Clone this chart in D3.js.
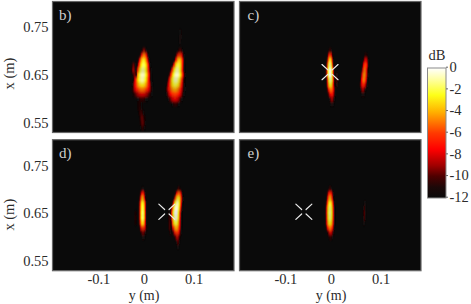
<!DOCTYPE html>
<html>
<head>
<meta charset="utf-8">
<script src="https://cdnjs.cloudflare.com/ajax/libs/d3/7.8.5/d3.min.js"></script>
<style>
	html, body { margin: 0; padding: 0; background: #fff; }
	svg { display: block; }
	text { font-family: "Liberation Serif", "Times New Roman", serif; fill: #2b2b2b; }
</style>
</head>
<body>
<div id="chart-area"></div>
<script>
/******************************
*			DATA			  *
******************************/
// every row: [x (m), y of ridge (m), half width (m), peak (dB)]
const blobB1 = [[0.70,0,0.005,-9],[0.69,0,0.009,-5],[0.68,-0.001,0.012,-2.8],[0.67,-0.001,0.014,-1.8],[0.66,-0.002,0.016,-1.2],[0.65,-0.003,0.018,-0.7],[0.64,-0.004,0.019,-1],[0.63,-0.004,0.021,-2.8],[0.62,-0.004,0.022,-5],[0.61,-0.004,0.020,-8],[0.60,-0.004,0.011,-10.5]];
const blobB2 = [[0.70,0.076,0.005,-10],[0.69,0.075,0.009,-6],[0.68,0.074,0.011,-3.5],[0.67,0.072,0.013,-2],[0.66,0.070,0.015,-1],[0.65,0.069,0.017,-0.5],[0.64,0.067,0.018,-0.8],[0.63,0.066,0.019,-2],[0.62,0.065,0.020,-4],[0.61,0.065,0.019,-6],[0.60,0.065,0.015,-8],[0.59,0.066,0.008,-10.5]];
const blobB3 = [[0.67,-0.022,0.004,-9.5],[0.66,-0.022,0.005,-9],[0.65,-0.020,0.004,-9.5]];
const blobB4 = [[0.59,-0.009,0.005,-11],[0.58,-0.009,0.005,-10.8],[0.57,-0.006,0.006,-10.3],[0.56,-0.004,0.006,-9.7],[0.55,-0.003,0.006,-9.8],[0.54,-0.003,0.005,-10.6]];
const blobB5 = [[0.74,0.076,0.002,-11.3],[0.73,0.076,0.003,-11],[0.72,0.075,0.002,-11.3]];

const blobC1 = [[0.70,-0.002,0.003,-10],[0.69,-0.002,0.006,-6],[0.68,-0.002,0.007,-3],[0.67,-0.002,0.008,-1],[0.66,-0.002,0.009,-0.2],[0.65,-0.002,0.009,0],[0.64,-0.001,0.009,-1],[0.63,-0.001,0.009,-2.5],[0.62,0,0.009,-5],[0.61,0.001,0.008,-7],[0.60,0.002,0.006,-9],[0.59,0.002,0.004,-11]];
const blobC2 = [[0.69,0.073,0.003,-10.5],[0.68,0.073,0.006,-8],[0.67,0.072,0.007,-6],[0.66,0.071,0.007,-5],[0.65,0.070,0.008,-4.5],[0.64,0.069,0.008,-5],[0.63,0.068,0.008,-6.5],[0.62,0.067,0.006,-9],[0.61,0.067,0.004,-11]];
const blobC3 = [[0.65,0.012,0.002,-10.5],[0.64,0.012,0.003,-10],[0.63,0.012,0.002,-10.5]];

const blobD1 = [[0.70,-0.003,0.002,-11],[0.69,-0.003,0.006,-7],[0.68,-0.003,0.007,-4],[0.67,-0.003,0.008,-2.5],[0.66,-0.003,0.008,-2],[0.65,-0.003,0.008,-1.5],[0.64,-0.003,0.008,-1.5],[0.63,-0.003,0.008,-3],[0.62,-0.002,0.008,-6],[0.61,-0.002,0.006,-9.5],[0.60,-0.001,0.003,-11]];
const blobD2 = [[0.70,0.073,0.003,-10],[0.69,0.073,0.008,-5.5],[0.68,0.072,0.010,-2.5],[0.67,0.070,0.011,-1],[0.66,0.068,0.012,-0.2],[0.65,0.067,0.012,0],[0.64,0.067,0.012,-0.5],[0.63,0.067,0.012,-2],[0.62,0.068,0.011,-4],[0.61,0.069,0.009,-6],[0.60,0.070,0.006,-8.5],[0.59,0.071,0.004,-10],[0.58,0.071,0.002,-11]];
const blobD3 = [[0.65,-0.018,0.002,-11],[0.64,-0.018,0.002,-10.5],[0.63,-0.018,0.002,-11]];
const blobD4 = [[0.65,0.053,0.002,-11],[0.64,0.053,0.003,-10.5],[0.63,0.054,0.003,-10],[0.62,0.054,0.003,-10],[0.61,0.055,0.002,-11]];

const blobE1 = [[0.70,-0.002,0.003,-10],[0.69,-0.002,0.007,-6.5],[0.68,-0.002,0.008,-4],[0.67,-0.002,0.009,-2.5],[0.66,-0.002,0.010,-1.5],[0.65,-0.002,0.010,-1.2],[0.64,-0.002,0.010,-1.5],[0.63,-0.002,0.010,-2.5],[0.62,-0.002,0.009,-5],[0.61,-0.001,0.007,-8],[0.60,-0.001,0.004,-10.5]];
const blobE2 = [[0.67,0.071,0.002,-11.3],[0.66,0.070,0.003,-10.5],[0.65,0.070,0.003,-10],[0.64,0.070,0.003,-10.2],[0.63,0.069,0.002,-11]];

// source positions [y (m), x (m)]
const crossC = [-0.002, 0.656];
const crossD = [0.048, 0.653];
const crossE = [-0.057, 0.653];

const panelNames = ["b)", "c)", "d)", "e)"];
const panelBlobs = [
	[blobB1, blobB2, blobB3, blobB4, blobB5],
	[blobC1, blobC2, blobC3],
	[blobD1, blobD2, blobD3, blobD4],
	[blobE1, blobE2]
];
const panelCross = [null, crossC, crossD, crossE];

const xTicks = [0.55, 0.65, 0.75];
const yTicks = [-0.1, 0, 0.1];
const dbTicks = [0, -2, -4, -6, -8, -10, -12];
const cmapDb = [-12, -11, -10, -9, -7.5, -6, -4, -2.5, -1, 0];
const cmapColors = ["#0a0a0a", "#1c0808", "#4e0000", "#a00000", "#ff0000", "#ff3a00", "#ffb400", "#fdff18", "#ffffa8", "#ffffff"];

/******************************
*	DIMENSIONS AND MARGINS	  *
******************************/
const widthinput = 471;
const heightinput = 304;
const panelW = 181.5;
const panelH = 131;
const colX = [52.5, 239.5];
const rowY = [1.5, 139.7];
const xLabelMid = [72, 75];

var svg = d3.select("#chart-area")
	.append("svg")
		.attr("width", widthinput)
		.attr("height", heightinput);

var defs = svg.append("defs");
defs.append("filter")
		.attr("id", "soft")
		.attr("x", "-20%").attr("y", "-20%")
		.attr("width", "140%").attr("height", "140%")
	.append("feGaussianBlur")
		.attr("stdDeviation", "0.7 1.7");

var color = d3.scaleLinear()
	.domain(cmapDb)
	.range(cmapColors)
	.clamp(true);

/******************************
*			PANELS			  *
******************************/
var x = d3.scaleLinear()
	.domain([0.5295, 0.804])
	.range([panelH, 0]);

var y = d3.scaleLinear()
	.domain([-0.1922, 0.1891])
	.range([0, panelW]);

const cellW = 0.0021;
const cellH = 0.0102;

panelNames.forEach((name, i) => {
	var col = i % 2, row = Math.floor(i / 2);
	var g = svg.append("g")
		.attr("transform", "translate(" + colX[col] + ", " + rowY[row] + ")");

	defs.append("clipPath").attr("id", "clip" + i)
		.append("rect").attr("width", panelW).attr("height", panelH);

	g.append("rect")
		.attr("width", panelW)
		.attr("height", panelH)
		.attr("fill", color(-12));

	var heat = g.append("g")
		.attr("clip-path", "url(#clip" + i + ")")
		.append("g")
			.attr("filter", "url(#soft)");

	panelBlobs[i].forEach((blob) => {
		blob.forEach((r) => {
			var cells = d3.range(r[1] - r[2], r[1] + r[2], cellW);
			heat.selectAll(null)
				.data(cells)
				.enter()
				.append("rect")
					.attr("x", (d) => { return y(d); })
					.attr("y", x(r[0] + cellH / 2))
					.attr("width", y(cellW) - y(0) + 0.3)
					.attr("height", x(0) - x(cellH))
					.attr("fill", (d) => {
						var t = (d + cellW / 2 - r[1]) / r[2];
						return color(r[3] + (-12 - r[3]) * t * t);
					});
		});
	});

	// source marker
	if (panelCross[i]) {
		var cx = y(panelCross[i][0]), cy = x(panelCross[i][1]);
		[[1, 1], [1, -1], [-1, 1], [-1, -1]].forEach((s) => {
			g.append("line")
				.attr("x1", cx + s[0] * 2.2).attr("y1", cy + s[1] * 2.2)
				.attr("x2", cx + s[0] * 8).attr("y2", cy + s[1] * 7.6)
				.attr("stroke", "#ececec")
				.attr("stroke-width", 1.2)
				.attr("stroke-linecap", "round");
		});
	}

	g.append("rect")
		.attr("width", panelW)
		.attr("height", panelH)
		.attr("fill", "none")
		.attr("stroke", "#666")
		.attr("stroke-width", 1.2);

	g.append("text")
		.attr("x", i % 2 ? 8 : 6.5)
		.attr("y", 18.5)
		.attr("font-size", 15)
		.style("fill", "#d0d0d0")
		.text(name);

	// left axis only on first column
	if (col == 0) {
		var xAxisCall = d3.axisLeft(x)
			.tickValues(xTicks)
			.tickSize(0)
			.tickPadding(4)
			.tickFormat(d3.format(".2f"));
		var ax = g.append("g").call(xAxisCall);
		ax.select(".domain").remove();
		ax.selectAll("text").attr("font-size", 14.5).attr("font-family", null);

		g.append("text")
			.attr("x", -xLabelMid[row])
			.attr("y", -39)
			.attr("text-anchor", "middle")
			.attr("transform", "rotate(-90)")
			.attr("font-size", 14.5)
			.text("x (m)");
	}

	// bottom axis only on second row
	if (row == 1) {
		var yAxisCall = d3.axisBottom(y)
			.tickValues(yTicks)
			.tickSize(0)
			.tickPadding(3.5)
			.tickFormat((d) => { return d == 0 ? "0" : String(d); });
		var ay = g.append("g")
			.attr("transform", "translate(0, " + panelH + ")")
			.call(yAxisCall);
		ay.select(".domain").remove();
		ay.selectAll("text")
			.attr("font-size", 14.5)
			.attr("font-family", null)
			.attr("dx", (d) => { return d == 0 ? 0 : 2; });

		g.append("text")
			.attr("x", y(0))
			.attr("y", panelH + 29.3)
			.attr("text-anchor", "middle")
			.attr("font-size", 14)
			.text("y (m)");
	}
});

/******************************
*			COLORBAR		  *
******************************/
var dbScale = d3.scaleLinear()
	.domain([-12, 0])
	.range([198, 68]);

var grad = defs.append("linearGradient")
	.attr("id", "cmap")
	.attr("x1", 0).attr("y1", 1)
	.attr("x2", 0).attr("y2", 0);
grad.selectAll("stop")
	.data(cmapDb)
	.enter()
	.append("stop")
		.attr("offset", (d) => { return (d + 12) / 12; })
		.attr("stop-color", (d) => { return color(d); });

svg.append("rect")
	.attr("x", 427.5)
	.attr("y", dbScale(0))
	.attr("width", 18.5)
	.attr("height", dbScale(-12) - dbScale(0))
	.attr("fill", "url(#cmap)")
	.attr("stroke", "#8a8a8a")
	.attr("stroke-width", 1);

var dbAxisCall = d3.axisRight(dbScale)
	.tickValues(dbTicks)
	.tickSize(2)
	.tickPadding(1.5)
	.tickFormat((d) => { return String(d); });

var dbAxis = svg.append("g")
	.attr("transform", "translate(446, -1.3)")
	.call(dbAxisCall);
dbAxis.select(".domain").remove();
dbAxis.selectAll("line").attr("stroke", "#666");
dbAxis.selectAll("text").attr("font-size", 14.5).attr("font-family", null);

svg.append("text")
	.attr("x", 437)
	.attr("y", 60)
	.attr("text-anchor", "middle")
	.attr("font-size", 14.5)
	.text("dB");
</script>
</body>
</html>
